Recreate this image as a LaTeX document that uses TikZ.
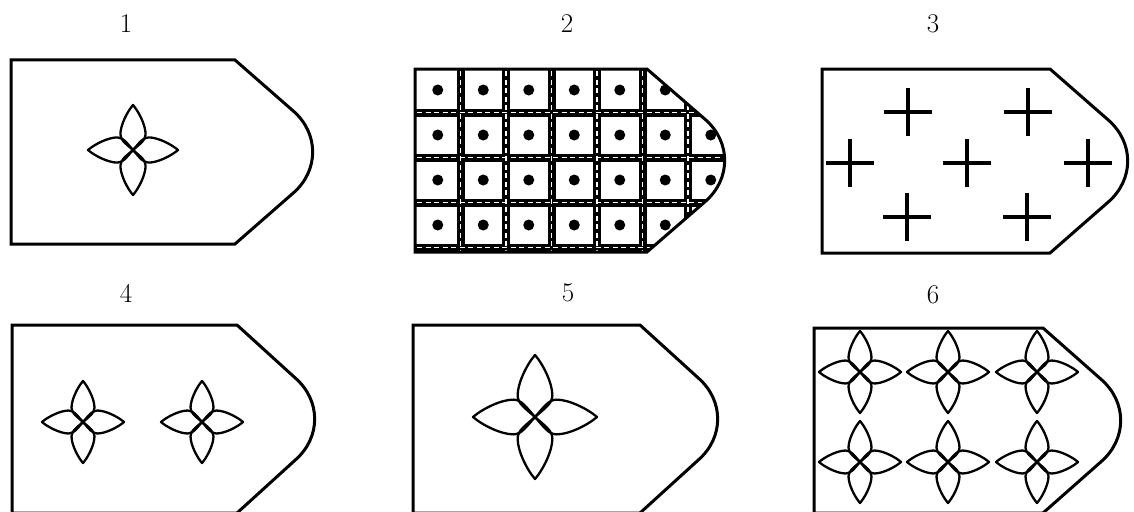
\documentclass[tikz,border=0pt]{standalone}
\usepackage{tikz}
\usetikzlibrary{positioning}

% outline of one strap: straight part #1 wide, #2 high, rounded tip on the right
\newcommand{\strapshape}[2]{(0,0) -- (#1,0) -- ({#1+58.4},{#2/2-40.9})
  .. controls ({#1+84.1},{#2/2-18.3}) and ({#1+84.1},{#2/2+18.3}) .. ({#1+58.4},{#2/2+40.9})
  -- (#1,#2) -- (0,#2) -- cycle}

\begin{document}
\begin{tikzpicture}[
  x=1pt, y=-1pt,
  strapline/.style={draw=black, line width=3pt, line join=miter},
  numlabel/.style={font=\fontsize{27}{30}\selectfont, inner sep=0pt},
  rosetteline/.style={draw=black, line width=2.3pt, line join=round},
  crossmark/.style={draw=black, line width=3.4pt},
  chainband/.style={draw=black, line width=8pt},
  chainlink/.style={draw=white, line width=1.8pt, dash pattern=on 5pt off 3.5pt},
  griddot/.style={fill=black},
  rosette/.pic={
    \foreach \a in {0,90,180,270}
      \draw[rosetteline, rotate=\a] (0,0) .. controls (0.15,0.17) and (0.22,0.28) .. (0.35,0.28)
        .. controls (0.55,0.28) and (0.85,0.13) .. (1,0)
        .. controls (0.85,-0.13) and (0.55,-0.28) .. (0.35,-0.28)
        .. controls (0.22,-0.28) and (0.15,-0.17) .. cycle;
  }
]
  \useasboundingbox (0,0) rectangle (1134,511);

  % numbers
  \node[numlabel] (lab1) at (126,24) {1};
  \node[numlabel] (lab2) at (567,24) {2};
  \node[numlabel] (lab3) at (933,24) {3};
  \node[numlabel] (lab4) at (126,293) {4};
  \node[numlabel] (lab5) at (568,293) {5};
  \node[numlabel] (lab6) at (933,295) {6};

  % strap 1
  \begin{scope}[shift={(11,60)}]
    \draw[strapline] \strapshape{224}{184};
  \end{scope}
  \pic[scale=45] at (133,150) {rosette};

  % strap 2: chain grid with dots
  \begin{scope}[shift={(415,69)}]
    \begin{scope}
      \clip \strapshape{232}{183};
      \foreach \i in {1,...,6}
        \draw[chainband] (45.5*\i,0) -- (45.5*\i,183);
      \foreach \j in {0,...,3}
        \draw[chainband] (0,43.5+45*\j) -- (330,43.5+45*\j);
      \foreach \i in {1,...,6}
        \draw[chainlink] (45.5*\i,2) -- (45.5*\i,183);
      \foreach \j in {0,...,3}
        \draw[chainlink] (2,43.5+45*\j) -- (330,43.5+45*\j);
      \foreach \i in {0,...,6}
        \foreach \j in {0,...,3}
          \fill[griddot] (22.75+45.5*\i,21+45*\j) circle (5.5pt);
    \end{scope}
    \draw[strapline] \strapshape{232}{183};
  \end{scope}

  % strap 3: crosses
  \begin{scope}[shift={(822,69)}]
    \draw[strapline] \strapshape{228}{184};
    \foreach \cx/\cy in {86/43, 206/43, 28/94, 145/94, 266/94, 85/148, 205/148}
      \draw[crossmark] (\cx-24,\cy) -- (\cx+24,\cy) (\cx,\cy-24) -- (\cx,\cy+24);
  \end{scope}

  % strap 4
  \begin{scope}[shift={(12,325)}]
    \draw[strapline] \strapshape{225}{188};
  \end{scope}
  \pic[scale=41] at (83,422) {rosette};
  \pic[scale=41] at (202,422) {rosette};

  % strap 5
  \begin{scope}[shift={(413,325)}]
    \draw[strapline] \strapshape{227}{188};
  \end{scope}
  \pic[scale=62] at (535,417) {rosette};

  % strap 6
  \begin{scope}[shift={(814,328)}]
    \draw[strapline] \strapshape{229}{185};
  \end{scope}
  \foreach \rx in {860,948,1037}
    \foreach \ry in {372,462}
      \pic[scale=41] at (\rx,\ry) {rosette};
\end{tikzpicture}
\end{document}
